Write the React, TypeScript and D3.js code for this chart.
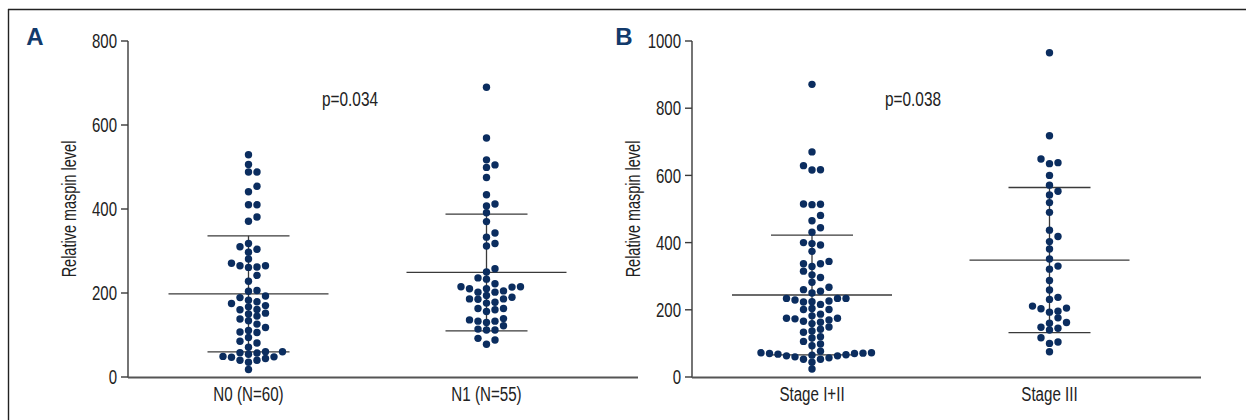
import React from "react";
import * as d3 from "d3";

// ---------- data ----------
const categoriesA = ["N0 (N=60)", "N1 (N=55)"];
const categoriesB = ["Stage I+II", "Stage III"];

const n0Values = [529, 506, 488, 488, 454, 441, 410, 410, 381, 371, 310, 297, 304, 318, 281, 265, 262, 261, 265, 271,
  242, 228, 206, 204, 193, 189, 183, 175, 167, 170, 179, 160, 150, 145, 152, 161, 134, 118, 126, 138,
  111, 107, 94, 106, 85, 81, 71, 60, 57, 48, 47, 40, 40, 44, 35, 49, 54, 58, 60, 18];
const n1Values = [690, 569, 517, 499, 505, 475, 434, 412, 407, 391, 370, 333, 343, 312, 318, 250, 258, 233, 236, 222,
  215, 210, 210, 214, 215, 202, 205, 202, 194, 186, 185, 186, 190, 178, 176, 163, 156, 160, 163, 133,
  122, 136, 139, 130, 133, 112, 112, 114, 92, 88, 78];
const stage12Values = [871, 670, 616, 617, 629, 515, 513, 514, 481, 465, 444, 431, 400, 393, 397, 374, 337, 329, 344, 337,
  315, 304, 296, 282, 267, 255, 260, 250, 234, 229, 224, 216, 223, 226, 234, 234, 201, 187, 182, 201,
  204, 175, 170, 163, 159, 166, 173, 175, 142, 133, 149, 137, 120, 116, 106, 98, 93, 72, 72, 70,
  66, 65, 60, 53, 53, 57, 44, 63, 63, 68, 70, 71, 77, 24];
const stage3Values = [965, 718, 638, 635, 649, 600, 571, 553, 542, 519, 490, 437, 403, 418, 381, 351, 330, 321, 287, 259,
  237, 231, 211, 205, 203, 193, 196, 176, 162, 160, 140, 148, 145, 117, 104, 100, 75];

const meansA = [198, 249];
const sdsA = [138, 139];
const meansB = [244, 348];
const sdsB = [178, 216];

const ticksA = [0, 200, 400, 600, 800];
const ticksB = [0, 200, 400, 600, 800, 1000];

const pTextA = "p=0.034";
const pTextB = "p=0.038";
const yTitle = "Relative maspin level";

// ---------- style ----------
const FONT = "'Liberation Sans', Arial, sans-serif";
const DOT = "#0b2d5f";
const LINE = "#3a3a3a";
const TEXT = "#222";
const SQUEEZE = 0.75;

type Pt = { x: number; y: number };

function beeswarm(values: number[], y: (v: number) => number, cx: number, step: number, minDy: number): Pt[] {
  const sorted = values.map((v) => ({ v, y: y(v) })).sort((a, b) => a.v - b.v);
  const cols = new Map<number, number[]>();
  const out: Pt[] = [];
  for (const p of sorted) {
    for (let k = 0; k < 80; k++) {
      const c = k === 0 ? 0 : k % 2 === 1 ? (k + 1) / 2 : -k / 2;
      const ys = cols.get(c) || [];
      if (ys.every((yy) => Math.abs(yy - p.y) >= minDy)) {
        ys.push(p.y);
        cols.set(c, ys);
        out.push({ x: cx + c * step, y: p.y });
        break;
      }
    }
  }
  return out;
}

function NText(props: { x: number; y: number; size: number; anchor?: string; rotate?: number; dy?: string; children: React.ReactNode }) {
  const { x, y, size, anchor = "start", rotate = 0, dy } = props;
  return (
    <g transform={`translate(${x},${y}) rotate(${rotate}) scale(${SQUEEZE},1)`}>
      <text x={0} y={0} dy={dy} textAnchor={anchor} fontFamily={FONT} fontSize={size} fill={TEXT}>
        {props.children}
      </text>
    </g>
  );
}

type PanelProps = {
  letter: string;
  axisX: number;
  axisEnd: number;
  firstCenter: number;
  spacing: number;
  yMax: number;
  ticks: number[];
  categories: string[];
  groups: number[][];
  means: number[];
  sds: number[];
  pText: string;
  pX: number;
  letterX: number;
};

function Panel(p: PanelProps) {
  const y = d3.scaleLinear().domain([0, p.yMax]).range([377, 41]);
  const x = d3
    .scalePoint<string>()
    .domain(p.categories)
    .range([p.firstCenter, p.firstCenter + p.spacing * (p.categories.length - 1)]);
  const tickLen = 7;
  return (
    <g>
      <text x={p.letterX} y={45} fontFamily="'Liberation Sans', Arial, sans-serif" fontWeight="bold" fontSize={24} fill="#123a6b" textAnchor="middle">
        {p.letter}
      </text>
      {/* y axis */}
      <line x1={p.axisX} x2={p.axisX} y1={y(p.yMax)} y2={377.5} stroke={LINE} strokeWidth={1.4} />
      {p.ticks.map((t) => (
        <g key={t}>
          <line x1={p.axisX - tickLen} x2={p.axisX} y1={y(t)} y2={y(t)} stroke={LINE} strokeWidth={1.4} />
          <NText x={p.axisX - tickLen - 4} y={y(t)} dy="0.36em" anchor="end" size={20}>
            {t}
          </NText>
        </g>
      ))}
      <NText x={p.axisX - 59} y={209} rotate={-90} anchor="middle" dy="0.35em" size={19.3}>
        {yTitle}
      </NText>
      {/* x axis */}
      <line x1={p.axisX} x2={p.axisEnd} y1={377.5} y2={377.5} stroke="#555" strokeWidth={1.8} />
      {p.categories.map((c) => (
        <NText key={c} x={x(c) as number} y={401} anchor="middle" size={20.2}>
          {c}
        </NText>
      ))}
      {/* summary lines */}
      {p.categories.map((c, i) => {
        const cx = x(c) as number;
        const m = p.means[i];
        const s = p.sds[i];
        return (
          <g key={"s" + c}>
            <line x1={cx - 80} x2={cx + 80} y1={y(m)} y2={y(m)} stroke={LINE} strokeWidth={1.3} />
            <line x1={cx - 41} x2={cx + 41} y1={y(m + s)} y2={y(m + s)} stroke={LINE} strokeWidth={1.3} />
            <line x1={cx - 41} x2={cx + 41} y1={y(m - s)} y2={y(m - s)} stroke={LINE} strokeWidth={1.3} />
            <line x1={cx} x2={cx} y1={y(m + s)} y2={y(m - s)} stroke={LINE} strokeWidth={1.3} />
          </g>
        );
      })}
      {/* dots */}
      {p.categories.map((c, i) => {
        const pts = beeswarm(p.groups[i], (v) => y(v), x(c) as number, 8.5, 6.5);
        return (
          <g key={"d" + c}>
            {pts.map((pt, j) => (
              <circle key={j} cx={pt.x} cy={pt.y} r={3.7} fill={DOT} />
            ))}
          </g>
        );
      })}
      <NText x={p.pX} y={106} size={20.5}>
        {p.pText}
      </NText>
    </g>
  );
}

export default function App() {
  return (
    <div style={{ position: "fixed", left: 0, top: 0, width: 1246, height: 420, background: "#fff" }}>
      <svg width={1246} height={420} style={{ display: "block" }}>
        <rect x={0} y={0} width={1246} height={420} fill="#fff" />
        <line x1={8} x2={1246} y1={9.5} y2={9.5} stroke="#222" strokeWidth={1.4} />
        <line x1={8.5} x2={8.5} y1={9} y2={420} stroke="#222" strokeWidth={1.4} />
        <Panel
          letter="A"
          letterX={35}
          axisX={128}
          axisEnd={638}
          firstCenter={248.5}
          spacing={238}
          yMax={800}
          ticks={ticksA}
          categories={categoriesA}
          groups={[n0Values, n1Values]}
          means={meansA}
          sds={sdsA}
          pText={pTextA}
          pX={322}
        />
        <Panel
          letter="B"
          letterX={624}
          axisX={692}
          axisEnd={1201}
          firstCenter={812}
          spacing={237.5}
          yMax={1000}
          ticks={ticksB}
          categories={categoriesB}
          groups={[stage12Values, stage3Values]}
          means={meansB}
          sds={sdsB}
          pText={pTextB}
          pX={885}
        />
      </svg>
    </div>
  );
}
